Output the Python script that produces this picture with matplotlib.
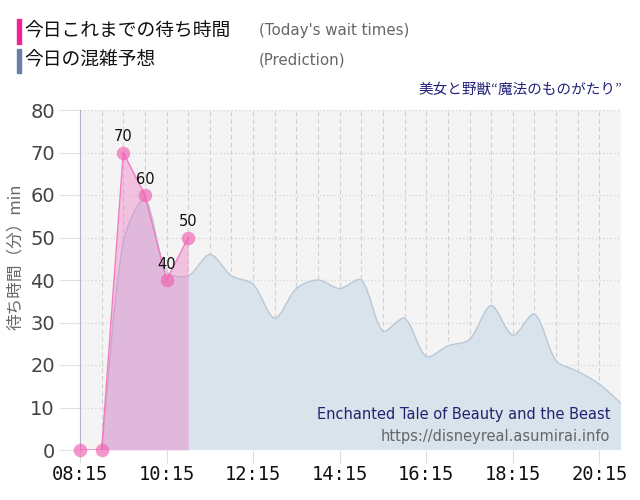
import numpy as np
import matplotlib
matplotlib.use("Agg")
import matplotlib.pyplot as plt
from matplotlib.patches import Rectangle, PathPatch
from matplotlib.path import Path
from matplotlib.ticker import FixedLocator

plt.rcParams['font.family'] = ['DejaVu Sans', 'Noto Sans CJK JP']

# today's actual waits
actual_times = ["08:15", "08:45", "09:15", "09:45", "10:15", "10:45"]
actual_waits = [0, 0, 70, 60, 40, 50]

# predicted waits
pred_times = ["08:45", "09:15", "09:45", "10:15", "10:45", "11:15", "11:45",
              "12:15", "12:45", "13:15", "13:45", "14:15", "14:45", "15:15",
              "15:45", "16:15", "16:45", "17:15", "17:45", "18:15", "18:45",
              "19:15", "19:45", "20:15", "20:45"]
pred_waits = [0, 49, 59, 42, 41, 46, 41, 39, 31, 38, 40, 38, 40, 28,
              31, 22, 24.5, 26, 34, 27, 32, 21, 18.5, 15.5, 11]

x_labels = ["08:15", "10:15", "12:15", "14:15", "16:15", "18:15", "20:15"]


def to_hours(t):
    h, m = t.split(":")
    return int(h) + int(m) / 60


def spline_path(x, y, tension=0.3, sx=43.2, sy=4.25, close=True):
    # chart.js style bezier through the points (distances in pixel units)
    x = np.asarray(x, float)
    y = np.asarray(y, float)
    n = len(x)
    px, py = x * sx, y * sy
    cprev, cnext = [], []
    for i in range(n):
        i0, i2 = max(i - 1, 0), min(i + 1, n - 1)
        d01 = np.hypot(px[i] - px[i0], py[i] - py[i0])
        d12 = np.hypot(px[i2] - px[i], py[i2] - py[i])
        tot = d01 + d12 if d01 + d12 > 0 else 1
        fa = tension * d01 / tot
        fb = tension * d12 / tot
        dx, dy = px[i2] - px[i0], py[i2] - py[i0]
        cprev.append(((px[i] - fa * dx) / sx, max((py[i] - fa * dy) / sy, 0)))
        cnext.append(((px[i] + fb * dx) / sx, max((py[i] + fb * dy) / sy, 0)))
    verts = [(x[0], y[0])]
    codes = [Path.MOVETO]
    for i in range(n - 1):
        verts += [cnext[i], cprev[i + 1], (x[i + 1], y[i + 1])]
        codes += [Path.CURVE4] * 3
    line = Path(verts, codes)
    if close:
        verts = verts + [(x[-1], 0), (x[0], 0), (x[0], y[0])]
        codes = codes + [Path.LINETO, Path.LINETO, Path.CLOSEPOLY]
    return line, Path(verts, codes)


xa = np.array([to_hours(t) for t in actual_times])
xp = np.array([to_hours(t) for t in pred_times])

fig = plt.figure(figsize=(6.4, 5.0), dpi=100)
ax = fig.add_axes([80 / 640, 50 / 500, 541 / 640, 340 / 500])
ax.set_facecolor('#f4f4f4')

# prediction area
line_path, fill_path = spline_path(xp, pred_waits)
ax.add_patch(PathPatch(fill_path, facecolor='#d9e3ec', edgecolor='none', zorder=2))
ax.add_patch(PathPatch(line_path, facecolor='none', edgecolor='#b9c8d6', lw=1, zorder=3))

# actual waits
ax.fill_between(xa, actual_waits, 0, color='#ec72c0', alpha=0.38, zorder=4, linewidth=0)
ax.plot(xa, actual_waits, color='#f57ac0', lw=1, zorder=5)
ax.scatter(xa, actual_waits, s=95, color='#f060b0', alpha=0.65, zorder=6,
           linewidths=0, clip_on=False)
for x, y in zip(xa[2:], actual_waits[2:]):
    ax.annotate(str(y), (x, y), xytext=(0, 6), textcoords='offset points',
                ha='center', va='bottom', fontsize=10.5, color='#111111', zorder=7)

ax.set_xlim(to_hours("08:15"), to_hours("20:45"))
ax.set_ylim(0, 80)

ax.xaxis.set_major_locator(FixedLocator([to_hours(t) for t in x_labels]))
ax.set_xticklabels(x_labels, family='DejaVu Sans Mono', fontsize=13.5, color='#111111')
ax.set_yticks(np.arange(0, 81, 10))

ax.tick_params(axis='y', length=15, color='#e2e2e2', labelsize=14, labelcolor='#444444', pad=3)
ax.tick_params(axis='x', which='major', length=9, color='#dddddd', pad=2)

# half-hour vertical grid
for gx in np.arange(to_hours("08:45"), to_hours("20:45"), 0.5):
    ax.axvline(gx, color='#d0d0d0', lw=0.8, linestyle=(0, (4, 3)), zorder=1)
ax.grid(axis='y', which='major', linestyle=':', color='#d8d8d8', lw=1, zorder=1)
ax.set_axisbelow(True)

for s in ['top', 'right', 'bottom']:
    ax.spines[s].set_visible(False)
ax.spines['left'].set_color('#b4b4c8')

ax.set_ylabel('待ち時間（分）min', fontsize=12, color='#666666',
              family=['Noto Sans CJK JP', 'DejaVu Sans'])
ax.yaxis.set_label_coords(-0.1035, 0.568)

# header legend
fig.patches.append(Rectangle((17 / 640, 1 - 44 / 500), 4 / 640, 25 / 500,
                             transform=fig.transFigure, color='#f0209a'))
fig.patches.append(Rectangle((17 / 640, 1 - 73 / 500), 4 / 640, 24 / 500,
                             transform=fig.transFigure, color='#6a7fa8'))
fig.text(24 / 640, 1 - 31 / 500, '今日これまでの待ち時間', fontsize=13.5, color='#111111',
         va='center', family=['Noto Sans CJK JP', 'DejaVu Sans'])
fig.text(24 / 640, 1 - 60 / 500, '今日の混雑予想', fontsize=13.5, color='#111111',
         va='center', family=['Noto Sans CJK JP', 'DejaVu Sans'])
fig.text(259 / 640, 1 - 31 / 500, "(Today's wait times)", fontsize=10.8, color='#666666', va='center')
fig.text(259 / 640, 1 - 60 / 500, "(Prediction)", fontsize=10.8, color='#666666', va='center')

fig.text(622 / 640, 1 - 90 / 500, '美女と野獣“魔法のものがたり”', fontsize=10.5,
         color='#22227a', ha='right', va='center',
         family=['Noto Sans CJK JP', 'DejaVu Sans'])

ax.text(0.98, 0.105, 'Enchanted Tale of Beauty and the Beast', transform=ax.transAxes,
        ha='right', va='center', fontsize=10.5, color='#22226e', zorder=8)
ax.text(0.98, 0.04, 'https://disneyreal.asumirai.info', transform=ax.transAxes,
        ha='right', va='center', fontsize=10.5, color='#666666', zorder=8)

fig.savefig('out.png', dpi=100)
